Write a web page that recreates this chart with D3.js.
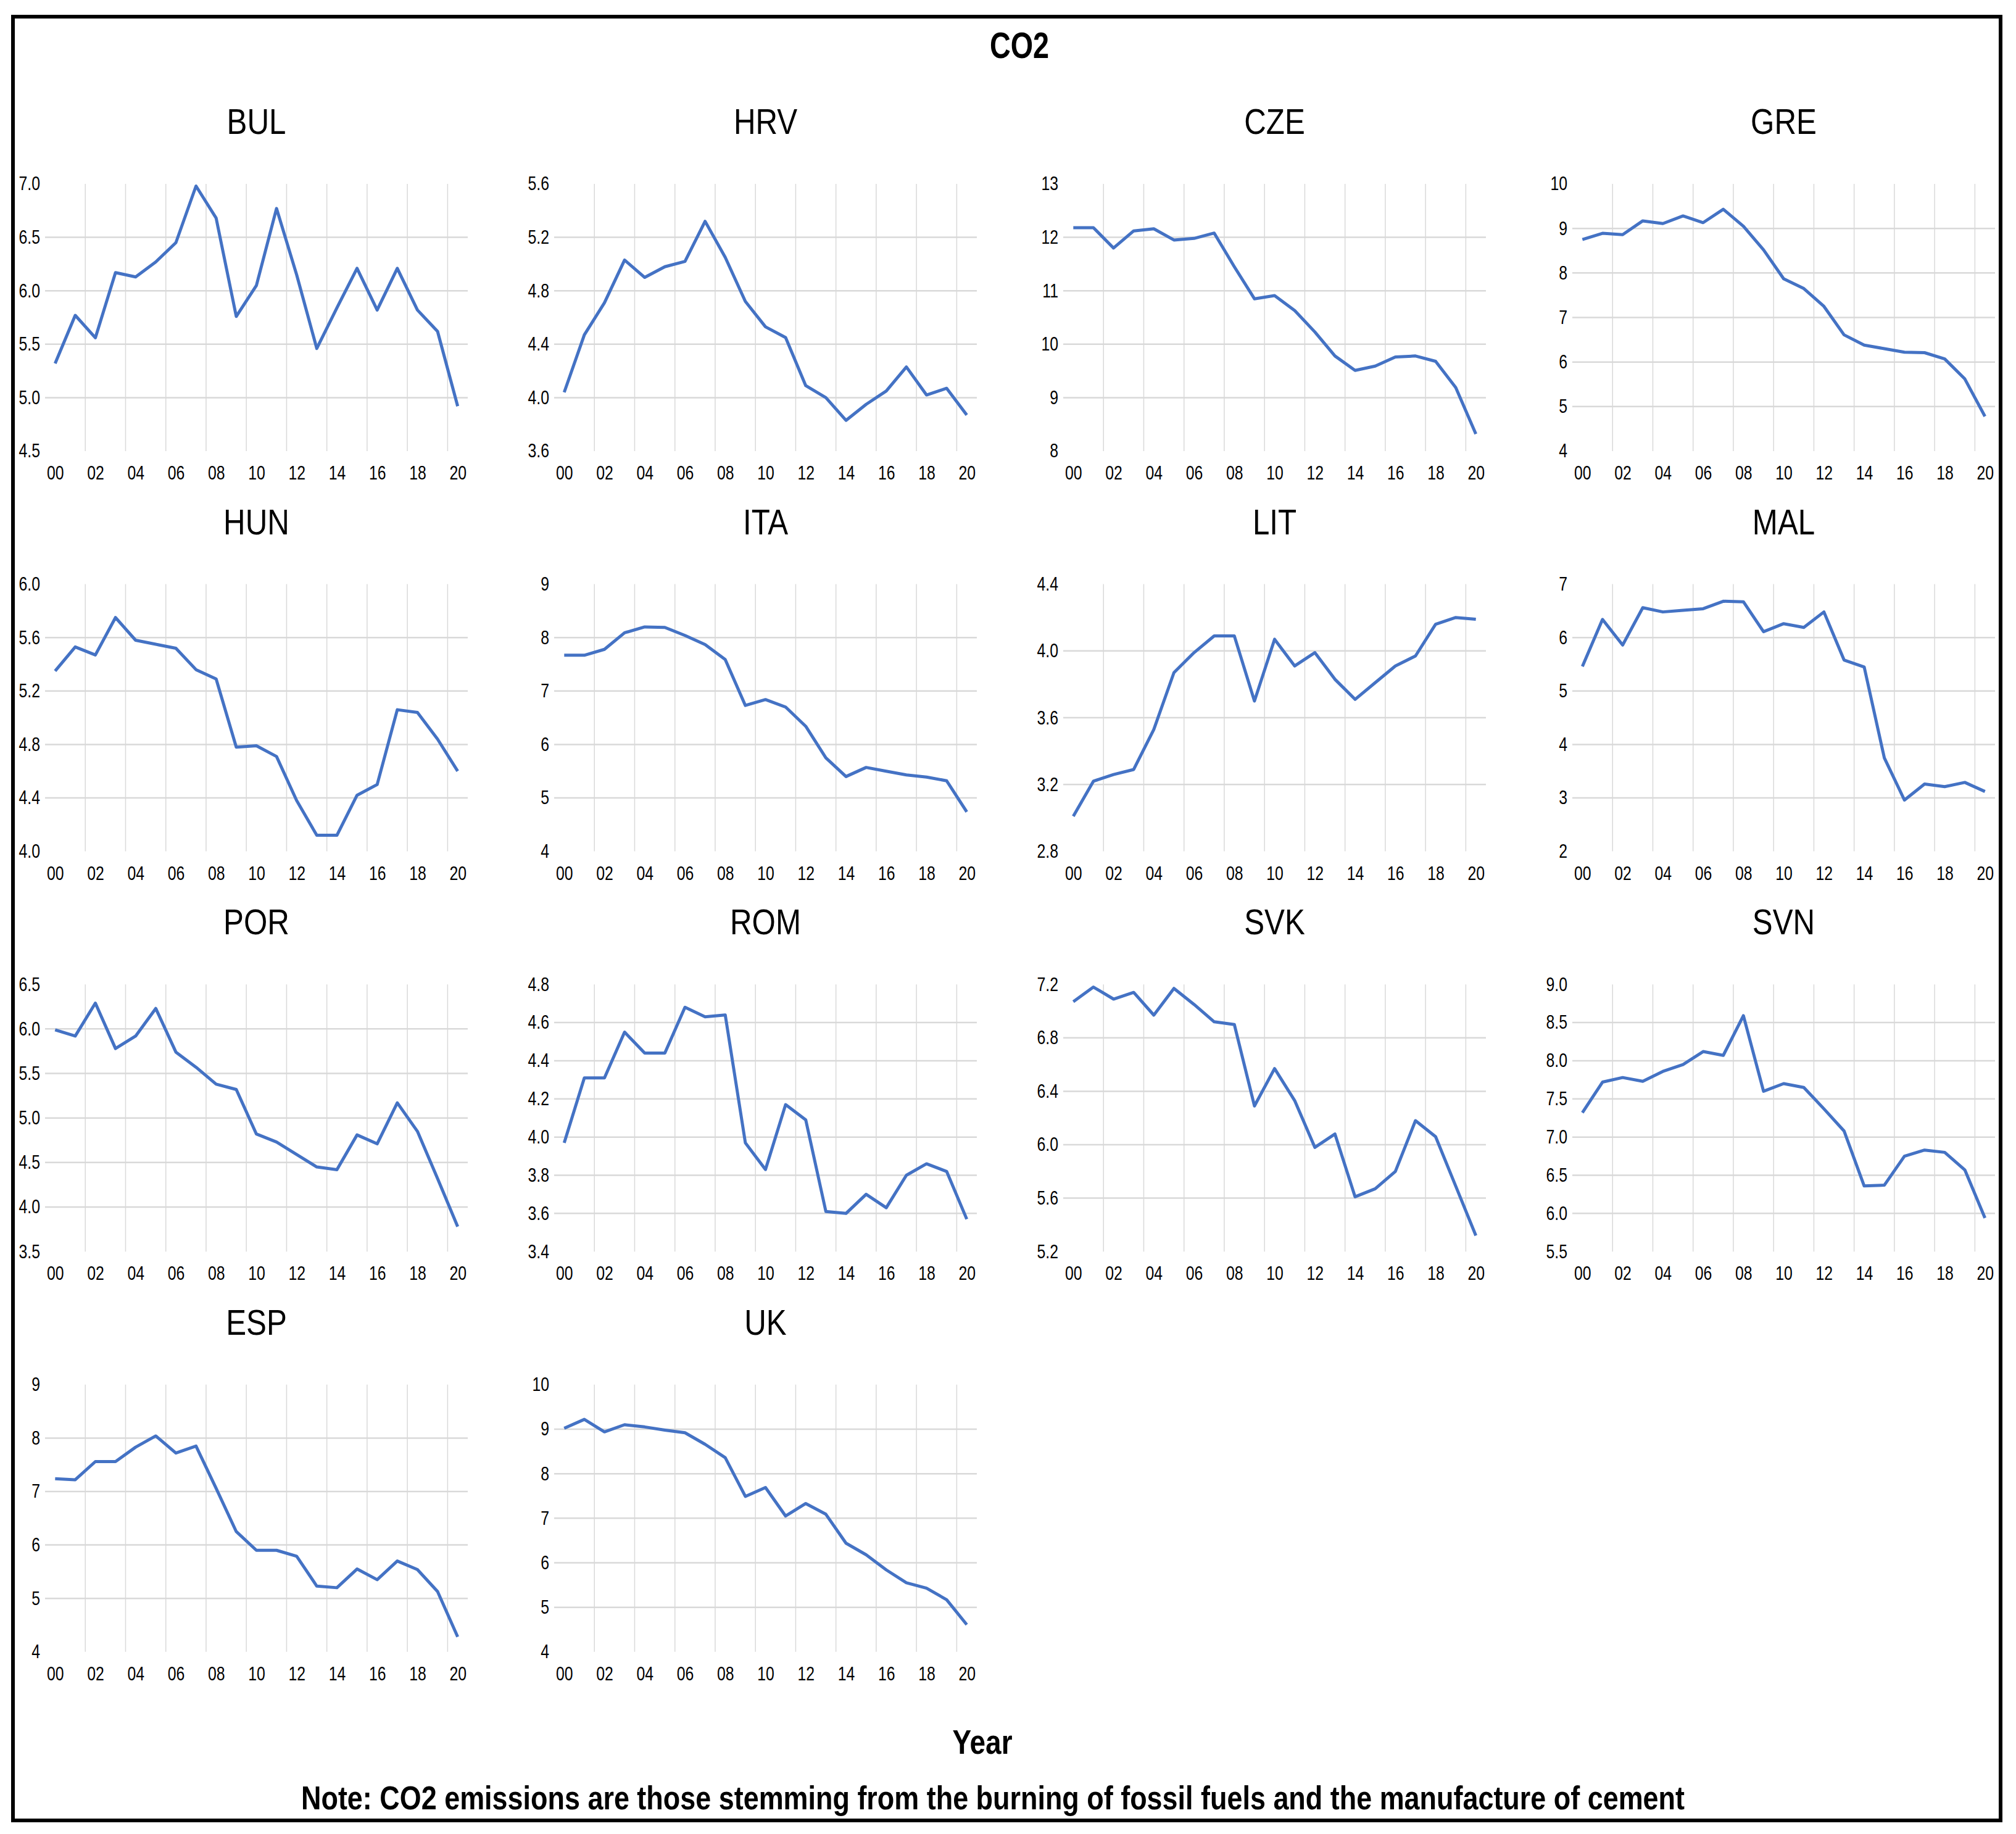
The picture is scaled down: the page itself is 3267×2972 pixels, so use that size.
<!DOCTYPE html>
<html lang="en">
<head>
<meta charset="utf-8">
<title>CO2</title>
<script src="https://cdn.jsdelivr.net/npm/d3@7"></script>
<style>
  body { margin: 0; background: #fff; }
  text { font-family: "Liberation Sans", Arial, sans-serif; fill: #000; }
</style>
</head>
<body>
<script>

//
// Data
//
var years = ["00","01","02","03","04","05","06","07","08","09","10",
             "11","12","13","14","15","16","17","18","19","20"];

var BUL = [5.32,5.77,5.56,6.17,6.13,6.27,6.45,6.98,6.68,5.76,6.05,6.77,6.15,5.46,5.84,6.21,5.82,6.21,5.82,5.62,4.92];
var HRV = [4.04,4.47,4.71,5.03,4.90,4.98,5.02,5.32,5.05,4.72,4.53,4.45,4.09,4.00,3.83,3.95,4.05,4.23,4.02,4.07,3.87];
var CZE = [12.18,12.18,11.80,12.12,12.16,11.95,11.98,12.08,11.45,10.85,10.91,10.63,10.23,9.78,9.51,9.59,9.76,9.78,9.68,9.19,8.32];
var GRE = [8.75,8.89,8.86,9.17,9.11,9.28,9.13,9.43,9.05,8.52,7.87,7.65,7.25,6.61,6.38,6.30,6.22,6.21,6.07,5.62,4.78];
var HUN = [5.35,5.53,5.47,5.75,5.58,5.55,5.52,5.36,5.29,4.78,4.79,4.71,4.38,4.12,4.12,4.42,4.50,5.06,5.04,4.84,4.60];
var ITA = [7.67,7.67,7.78,8.09,8.20,8.19,8.04,7.87,7.59,6.73,6.84,6.70,6.34,5.75,5.40,5.57,5.50,5.43,5.39,5.32,4.74];
var LIT = [3.01,3.22,3.26,3.29,3.53,3.87,3.99,4.09,4.09,3.70,4.07,3.91,3.99,3.83,3.71,3.81,3.91,3.97,4.16,4.20,4.19];
var MAL = [5.46,6.34,5.86,6.56,6.48,6.51,6.54,6.68,6.67,6.11,6.26,6.19,6.48,5.58,5.45,3.75,2.96,3.26,3.21,3.29,3.12];
var POR = [5.99,5.92,6.29,5.78,5.92,6.23,5.74,5.57,5.38,5.32,4.82,4.73,4.59,4.45,4.42,4.81,4.71,5.17,4.85,4.32,3.78];
var ROM = [3.97,4.31,4.31,4.55,4.44,4.44,4.68,4.63,4.64,3.97,3.83,4.17,4.09,3.61,3.60,3.70,3.63,3.80,3.86,3.82,3.57];
var SVK = [7.07,7.18,7.09,7.14,6.97,7.17,7.05,6.92,6.90,6.29,6.57,6.33,5.98,6.08,5.61,5.67,5.80,6.18,6.06,5.69,5.32];
var SVN = [7.32,7.72,7.78,7.73,7.86,7.95,8.12,8.07,8.59,7.60,7.70,7.65,7.37,7.08,6.36,6.37,6.75,6.83,6.80,6.57,5.94];
var ESP = [7.24,7.22,7.56,7.56,7.83,8.04,7.72,7.85,7.06,6.25,5.90,5.90,5.79,5.23,5.20,5.55,5.35,5.70,5.54,5.13,4.28];
var UK  = [9.02,9.22,8.94,9.10,9.05,8.98,8.92,8.66,8.36,7.49,7.69,7.05,7.33,7.09,6.44,6.18,5.84,5.55,5.43,5.17,4.61];

// y-axis tick labels of each panel
var BUL_TICKS = [4.5,5.0,5.5,6.0,6.5,7.0];
var HRV_TICKS = [3.6,4.0,4.4,4.8,5.2,5.6];
var CZE_TICKS = [8,9,10,11,12,13];
var GRE_TICKS = [4,5,6,7,8,9,10];
var HUN_TICKS = [4.0,4.4,4.8,5.2,5.6,6.0];
var ITA_TICKS = [4,5,6,7,8,9];
var LIT_TICKS = [2.8,3.2,3.6,4.0,4.4];
var MAL_TICKS = [2,3,4,5,6,7];
var POR_TICKS = [3.5,4.0,4.5,5.0,5.5,6.0,6.5];
var ROM_TICKS = [3.4,3.6,3.8,4.0,4.2,4.4,4.6,4.8];
var SVK_TICKS = [5.2,5.6,6.0,6.4,6.8,7.2];
var SVN_TICKS = [5.5,6.0,6.5,7.0,7.5,8.0,8.5,9.0];
var ESP_TICKS = [4,5,6,7,8,9];
var UK_TICKS  = [4,5,6,7,8,9,10];

var countries = ["BUL","HRV","CZE","GRE","HUN","ITA","LIT","MAL","POR","ROM","SVK","SVN","ESP","UK"];
var seriesList = [BUL,HRV,CZE,GRE,HUN,ITA,LIT,MAL,POR,ROM,SVK,SVN,ESP,UK];
var tickList = [BUL_TICKS,HRV_TICKS,CZE_TICKS,GRE_TICKS,HUN_TICKS,ITA_TICKS,LIT_TICKS,
                MAL_TICKS,POR_TICKS,ROM_TICKS,SVK_TICKS,SVN_TICKS,ESP_TICKS,UK_TICKS];

var titleText = "CO2";
var xTitleText = "Year";
var noteText = "Note: CO2 emissions are those stemming from the burning of fossil fuels and the manufacture of cement";


//
// Layout
//
var W = 3267, H = 2972;
var plotLeft0 = 73, colPitch = 825, plotW = 685;
var plotTop0 = 298, rowPitch = 648.6, plotH = 433;
var lineColor = "#4472c4", gridColor = "#d9d9d9";
var squeeze = 0.8;   // the original uses a narrow font

var svg = d3.select("body")
  .append("svg")
  .attr("width", W)
  .attr("height", H);

svg.append("rect").attr("width", W).attr("height", H).attr("fill", "#fff");

// outer frame
svg.append("rect")
  .attr("x", 21).attr("y", 27)
  .attr("width", 3221).attr("height", 2923)
  .attr("fill", "none")
  .attr("stroke", "#000")
  .attr("stroke-width", 6);

var addText = function(x, y, size, bold, str, sx) {
  return svg.append("text")
    .attr("transform", "translate(" + x + "," + y + ") scale(" + sx + ",1)")
    .attr("text-anchor", "middle")
    .attr("font-size", size)
    .attr("font-weight", bold ? "bold" : "normal")
    .text(str);
};

addText(1652, 94, 60, true, titleText, 0.78);
addText(1592, 2842, 56, true, xTitleText, 0.82);

svg.append("text")
  .attr("x", 488).attr("y", 2932)
  .attr("font-size", 54)
  .attr("font-weight", "bold")
  .attr("textLength", 2242)
  .attr("lengthAdjust", "spacingAndGlyphs")
  .text(noteText);


var renderPanel = function(i) {

  var col = i % 4, row = Math.floor(i / 4);
  var left = plotLeft0 + col * colPitch;
  var top = plotTop0 + row * rowPitch;
  var values = seriesList[i];
  var ticks = tickList[i];

  var g = svg.append("g").attr("transform", "translate(" + left + "," + top + ")");

  var x = d3.scalePoint()
    .domain(years)
    .range([0, plotW])
    .padding(0.5);

  var y = d3.scaleLinear()
    .domain(d3.extent(ticks))
    .range([plotH, 0]);

  var decimals = ticks.some(function(t) { return t % 1 !== 0; });
  var fmt = decimals ? d3.format(".1f") : d3.format("d");

  // horizontal gridlines (inner ticks only)
  g.selectAll(".hgrid")
    .data(ticks.slice(1, -1))
    .enter()
    .append("line")
    .attr("x1", 0).attr("x2", plotW)
    .attr("y1", function(d) { return y(d); })
    .attr("y2", function(d) { return y(d); })
    .attr("stroke", gridColor)
    .attr("stroke-width", 2.5);

  // vertical gridlines at category boundaries, every second category
  var boundaries = years.filter(function(d, k) { return k % 2 === 1 && k < years.length - 1; });
  g.selectAll(".vgrid")
    .data(boundaries)
    .enter()
    .append("line")
    .attr("x1", function(d) { return x(d) + x.step() / 2; })
    .attr("x2", function(d) { return x(d) + x.step() / 2; })
    .attr("y1", 0).attr("y2", plotH)
    .attr("stroke", gridColor)
    .attr("stroke-width", 1.5);

  // y axis labels
  var yAxis = d3.axisLeft(y).tickValues(ticks).tickFormat(fmt).tickSize(0).tickPadding(10);
  var ya = g.append("g").call(yAxis);
  ya.select(".domain").remove();
  ya.selectAll("text")
    .attr("font-size", 31).attr("font-family", null).attr("fill", "#000")
    .attr("transform", "scale(" + squeeze + ",1)");

  // x axis labels
  var xAxis = d3.axisBottom(x)
    .tickValues(years.filter(function(d, k) { return k % 2 === 0; }))
    .tickSize(0).tickPadding(24);
  var xa = g.append("g").attr("transform", "translate(0," + plotH + ")").call(xAxis);
  xa.select(".domain").remove();
  xa.selectAll("text")
    .attr("font-size", 31).attr("font-family", null).attr("fill", "#000")
    .attr("transform", "scale(" + squeeze + ",1)");

  // series line
  var line = d3.line()
    .x(function(d, k) { return x(years[k]); })
    .y(function(d) { return y(d); });

  g.append("path")
    .datum(values)
    .attr("d", line)
    .attr("fill", "none")
    .attr("stroke", lineColor)
    .attr("stroke-width", 5)
    .attr("stroke-linejoin", "round");

  // panel title
  g.append("text")
    .attr("transform", "translate(" + (plotW / 2) + ",-81) scale(0.85,1)")
    .attr("text-anchor", "middle")
    .attr("font-size", 58)
    .text(countries[i]);
};

countries.forEach(function(c, i) { renderPanel(i); });

</script>
</body>
</html>
